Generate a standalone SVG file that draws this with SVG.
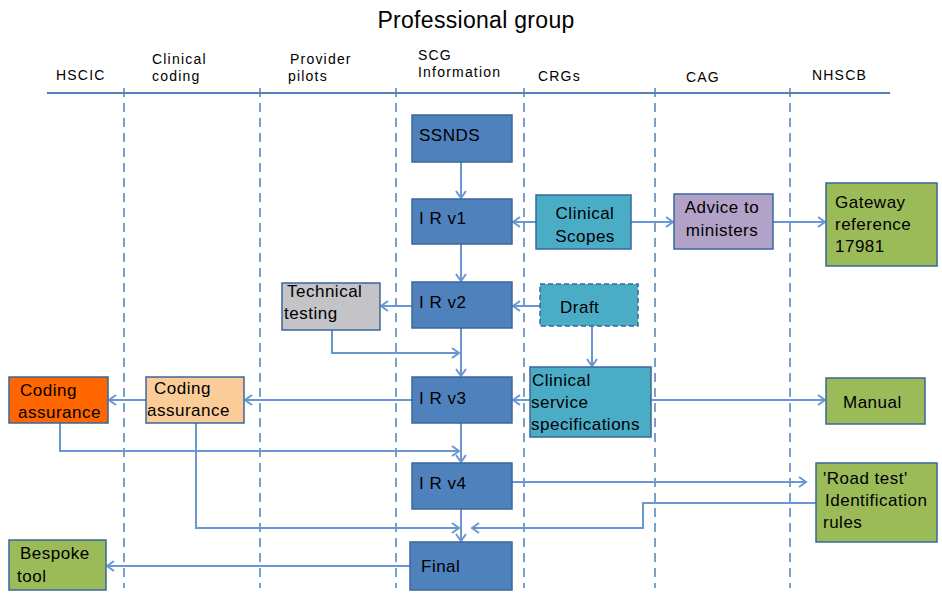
<svg xmlns="http://www.w3.org/2000/svg" width="942" height="598" viewBox="0 0 942 598">
<style>
text{font-family:"Liberation Sans",Arial,sans-serif;fill:#000}
.hdr{font-size:14px;letter-spacing:1.2px}
.t{font-size:17px;letter-spacing:0.5px}
.box{stroke:#3A679C;stroke-width:1.5}
.ir{fill:#4F81BD}
.cyan{fill:#4BACC6}
.green{fill:#9BBB59}
.lane{stroke:#4F81BD;stroke-width:1.5;stroke-dasharray:9,6;fill:none}
.c{stroke:#6A97D3;stroke-width:2;fill:none}
</style>
<defs>
<marker id="a" markerWidth="12" markerHeight="12" refX="9" refY="6" orient="auto" markerUnits="userSpaceOnUse">
<path d="M2,1 L9,6 L2,11" fill="none" stroke="#6A97D3" stroke-width="2"/>
</marker>
</defs>
<rect width="942" height="598" fill="#fff"/>
<text x="476" y="28" font-size="23" letter-spacing="0.3" text-anchor="middle">Professional group</text>
<g id="headers" class="hdr">
<text x="56" y="80">HSCIC</text>
<text x="152" y="64">Clinical</text><text x="152" y="81">coding</text>
<text x="290" y="64">Provider</text><text x="288" y="81">pilots</text>
<text x="418" y="60">SCG</text><text x="418" y="77">Information</text>
<text x="538" y="81">CRGs</text>
<text x="686" y="82">CAG</text>
<text x="812" y="80">NHSCB</text>
</g>
<g id="grid">
<line x1="47" y1="93" x2="890" y2="93" stroke="#4F81BD" stroke-width="2"/>
<line class="lane" x1="124" y1="88" x2="124" y2="588"/>
<line class="lane" x1="260" y1="88" x2="260" y2="588"/>
<line class="lane" x1="396" y1="88" x2="396" y2="588"/>
<line class="lane" x1="524" y1="88" x2="524" y2="588"/>
<line class="lane" x1="655" y1="88" x2="655" y2="588"/>
<line class="lane" x1="790" y1="88" x2="790" y2="588"/>
</g>
<g id="connectors">
<line class="c" x1="461" y1="162" x2="461" y2="198" marker-end="url(#a)"/>
<line class="c" x1="461" y1="244" x2="461" y2="281" marker-end="url(#a)"/>
<line class="c" x1="536" y1="222" x2="513" y2="222" marker-end="url(#a)"/>
<line class="c" x1="631" y1="222" x2="673" y2="222" marker-end="url(#a)"/>
<line class="c" x1="773" y1="222" x2="825" y2="222" marker-end="url(#a)"/>
<line class="c" x1="412" y1="306" x2="381" y2="306" marker-end="url(#a)"/>
<line class="c" x1="540" y1="306" x2="513" y2="306" marker-end="url(#a)"/>
<line class="c" x1="592" y1="312" x2="592" y2="366" marker-end="url(#a)"/>
<line class="c" x1="461" y1="328" x2="461" y2="376" marker-end="url(#a)"/>
<polyline class="c" points="332,330 332,353 459,353" marker-end="url(#a)"/>
<line class="c" x1="530" y1="400" x2="513" y2="400" marker-end="url(#a)"/>
<line class="c" x1="635" y1="400" x2="825" y2="400" marker-end="url(#a)"/>
<line class="c" x1="412" y1="400" x2="245" y2="400" marker-end="url(#a)"/>
<line class="c" x1="146" y1="400" x2="109" y2="400" marker-end="url(#a)"/>
<line class="c" x1="461" y1="423" x2="461" y2="462" marker-end="url(#a)"/>
<polyline class="c" points="60,423 60,451 459,451" marker-end="url(#a)"/>
<line class="c" x1="512" y1="482" x2="806" y2="482" marker-end="url(#a)"/>
<polyline class="c" points="816,503 643,503 643,528 472,528" marker-end="url(#a)"/>
<polyline class="c" points="196,423 196,528 459,528" marker-end="url(#a)"/>
<line class="c" x1="461" y1="509" x2="461" y2="541" marker-end="url(#a)"/>
<line class="c" x1="410" y1="566" x2="107" y2="566" marker-end="url(#a)"/>
</g>
<g id="ssnds"><rect class="box ir" x="412" y="115" width="100" height="47"/><text class="t" x="419" y="141">SSNDS</text></g>
<g id="irv1"><rect class="box ir" x="412" y="199" width="100" height="45"/><text class="t" x="419" y="224">I R v1</text></g>
<g id="irv2"><rect class="box ir" x="412" y="282" width="100" height="46"/><text class="t" x="419" y="308">I R v2</text></g>
<g id="irv3"><rect class="box ir" x="412" y="377" width="100" height="46"/><text class="t" x="419" y="404">I R v3</text></g>
<g id="irv4"><rect class="box ir" x="412" y="463" width="100" height="46"/><text class="t" x="419" y="489">I R v4</text></g>
<g id="final"><rect class="box ir" x="410" y="542" width="102" height="48"/><text class="t" x="421" y="572">Final</text></g>
<g id="scopes"><rect class="box cyan" x="536" y="195" width="95" height="54"/><text class="t" x="585" y="219" text-anchor="middle">Clinical</text><text class="t" x="585" y="242" text-anchor="middle">Scopes</text></g>
<g id="draft"><rect class="cyan" x="540" y="284" width="98" height="42" stroke="#3A679C" stroke-width="1.5" stroke-dasharray="5,3"/><text class="t" x="560" y="313">Draft</text></g>
<g id="tech"><rect class="box" fill="#C4C4C8" x="282" y="283" width="98" height="47"/><text class="t" x="287" y="297">Technical</text><text class="t" x="284" y="319">testing</text></g>
<g id="css"><rect class="box cyan" x="530" y="367" width="121" height="70"/><text class="t" x="532" y="386">Clinical</text><text class="t" x="531" y="408">service</text><text class="t" x="531" y="430">specifications</text></g>
<g id="advice"><rect class="box" fill="#B3A2C7" x="674" y="194" width="99" height="55"/><text class="t" x="722" y="213" text-anchor="middle">Advice to</text><text class="t" x="722" y="236" text-anchor="middle">ministers</text></g>
<g id="gateway"><rect class="box green" x="826" y="183" width="111" height="83"/><text class="t" x="835" y="208">Gateway</text><text class="t" x="835" y="230">reference</text><text class="t" x="835" y="252">17981</text></g>
<g id="manual"><rect class="box green" x="826" y="378" width="99" height="46"/><text class="t" x="843" y="408">Manual</text></g>
<g id="roadtest"><rect class="box green" x="816" y="463" width="121" height="79"/><text class="t" x="823" y="484">'Road test'</text><text class="t" x="825" y="506">Identification</text><text class="t" x="823" y="528">rules</text></g>
<g id="coding1"><rect class="box" fill="#FF6600" x="9" y="377" width="99" height="46"/><text class="t" x="20" y="396">Coding</text><text class="t" x="18" y="418">assurance</text></g>
<g id="coding2"><rect class="box" fill="#FCCC98" x="146" y="377" width="98" height="46"/><text class="t" x="154" y="394">Coding</text><text class="t" x="147" y="416">assurance</text></g>
<g id="bespoke"><rect class="box green" x="9" y="540" width="97" height="50"/><text class="t" x="20" y="559">Bespoke</text><text class="t" x="17" y="582">tool</text></g>
</svg>
